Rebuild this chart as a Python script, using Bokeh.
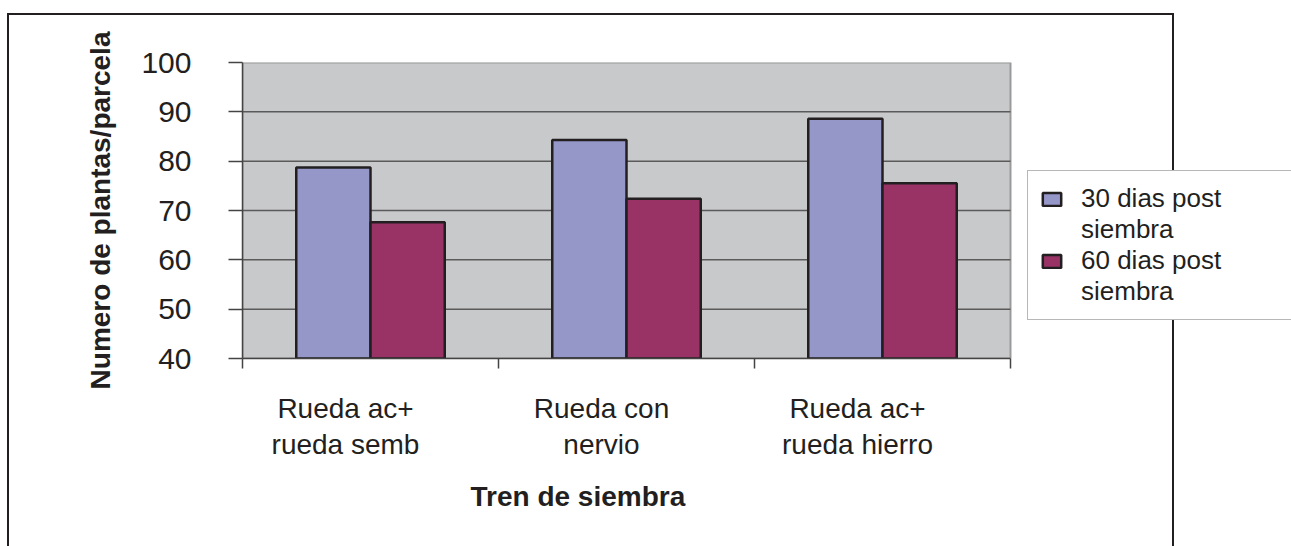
from bokeh.embed import file_html
from bokeh.models import (ColumnDataSource, FixedTicker, InlineStyleSheet, Legend,
                          LegendItem, Range1d, Title)
from bokeh.plotting import figure
from bokeh.resources import INLINE
from bokeh.transform import dodge

# ---- data -------------------------------------------------------------
categories = ["Rueda ac+\nrueda semb", "Rueda con\nnervio", "Rueda ac+\nrueda hierro"]
series_names = ["30 dias post\nsiembra", "60 dias post\nsiembra"]
dias_30 = [78.7, 84.3, 88.6]
dias_60 = [67.6, 72.4, 75.5]
y_ticks = [40, 50, 60, 70, 80, 90, 100]
y_title = "Numero de plantas/parcela"
x_title = "Tren de siembra"

# ---- styling / layout -------------------------------------------------
COLORS = ["#9697C9", "#993366"]
FONT = "Liberation Sans"
INK = "#231F20"

W, H = 1291, 546
FL, FR, FT, FB = 242, 1010, 62, 358      # plot-area edges (page pixels)
Y0, Y1 = y_ticks[0], y_ticks[-1]
n = len(categories)
PX_PER_CAT = (FR - FL) / n
X_END = (W - FL) / PX_PER_CAT            # frame runs to the right edge; legend lives there
LABEL_SHIFT = -25 / PX_PER_CAT           # category labels sit a little left of centre

p = figure(width=W, height=H,
           x_range=Range1d(0, X_END), y_range=Range1d(Y0, Y1),
           output_backend="svg", toolbar_location=None,
           min_border_left=FL, min_border_right=0,
           min_border_top=FT, min_border_bottom=H - FB)

p.background_fill_alpha = 0
p.border_fill_alpha = 0
p.outline_line_color = None

# outer chart border, painted behind the (transparent) canvas
p.stylesheets = [InlineStyleSheet(css="""
:host { position: relative; isolation: isolate; overflow: hidden; background: white; }
:host::before {
  content: ""; position: absolute; left: 7px; top: 13px; width: 1167px; height: 560px;
  border: 2.5px solid #231F20; box-sizing: border-box; z-index: -1; pointer-events: none;
}
""")]

# grey plot area spanning the categories, with its horizontal grid lines
p.quad(left=[0], right=[n], bottom=[Y0], top=[Y1], level="image",
       fill_color="#C8C9CB", line_color="#9A9A9A", line_width=2)
grid_y = y_ticks[1:-1]
p.segment(x0=[0] * len(grid_y), x1=[n] * len(grid_y), y0=grid_y, y1=grid_y,
          level="underlay", line_color="#5A5A5A", line_width=1.5)

src = ColumnDataSource(dict(x=[i + 0.5 for i in range(n)], d30=dias_30, d60=dias_60))
BAR_W = 0.29
bars = []
for key, off, col in (("d30", -BAR_W / 2, COLORS[0]), ("d60", BAR_W / 2, COLORS[1])):
    bars.append(p.vbar(x=dodge("x", off), top=key, bottom=Y0, width=BAR_W, source=src,
                       fill_color=col, line_color=INK, line_width=2.5))

# empty, invisible renderer used for the second line of each legend entry
blank = p.vbar(x=[], top=[], width=BAR_W, fill_alpha=0, line_alpha=0)

# y axis
p.yaxis.ticker = FixedTicker(ticks=y_ticks)
p.yaxis.major_tick_out = 14
p.yaxis.major_tick_in = 0
p.yaxis.minor_tick_line_color = None
p.yaxis.axis_line_color = "#444444"
p.yaxis.axis_line_width = 1.5
p.yaxis.major_tick_line_color = "#444444"
p.yaxis.major_tick_line_width = 1.5
p.yaxis.major_label_text_font = FONT
p.yaxis.major_label_text_font_size = "30px"
p.yaxis.major_label_text_color = INK
p.yaxis.major_label_standoff = 37
p.yaxis.axis_label = y_title
p.yaxis.axis_label_text_font = FONT
p.yaxis.axis_label_text_font_size = "28px"
p.yaxis.axis_label_text_font_style = "bold"
p.yaxis.axis_label_text_color = INK
p.yaxis.axis_label_standoff = 22

# x axis: category names as (hidden-tick) major labels, boundaries as minor ticks
label_pos = [i + 0.5 + LABEL_SHIFT for i in range(n)]
p.xaxis.bounds = (0, n)
p.xaxis.ticker = FixedTicker(ticks=label_pos, minor_ticks=list(range(n + 1)))
p.xaxis.major_label_overrides = dict(zip(label_pos, categories))
p.xaxis.major_tick_line_color = None
p.xaxis.major_tick_out = 0
p.xaxis.major_tick_in = 0
p.xaxis.minor_tick_out = 10
p.xaxis.minor_tick_in = 0
p.xaxis.minor_tick_line_color = "#444444"
p.xaxis.minor_tick_line_width = 1.5
p.xaxis.axis_line_color = "#444444"
p.xaxis.axis_line_width = 1.5
p.xaxis.major_label_text_font = FONT
p.xaxis.major_label_text_font_size = "28px"
p.xaxis.major_label_text_color = INK
p.xaxis.major_label_text_line_height = 1.18
p.xaxis.major_label_standoff = 24

p.xgrid.visible = False
p.ygrid.visible = False

# x-axis title
p.add_layout(Title(text=x_title, align="left", offset=470 - FL, standoff=30,
                   text_font=FONT, text_font_size="28px", text_font_style="bold",
                   text_color=INK), "below")

# legend: one row per text line, swatch on the first line of each series
items = []
for name, r in zip(series_names, bars):
    first, *rest = name.split("\n")
    items.append(LegendItem(label=first, renderers=[r]))
    for line in rest:
        items.append(LegendItem(label=line, renderers=[blank]))

legend = Legend(items=items, location=(1027 - FL, FB - 320), orientation="vertical",
                glyph_width=23, glyph_height=16, label_standoff=18, label_width=200,
                label_height=20, padding=12, margin=0, spacing=0,
                label_text_font=FONT, label_text_font_size="26px", label_text_color=INK,
                label_text_line_height=1.2,
                border_line_color="#707070", border_line_width=1.2,
                background_fill_color="white", background_fill_alpha=1)
p.add_layout(legend)

open("out.html", "w").write(file_html(p, INLINE))
